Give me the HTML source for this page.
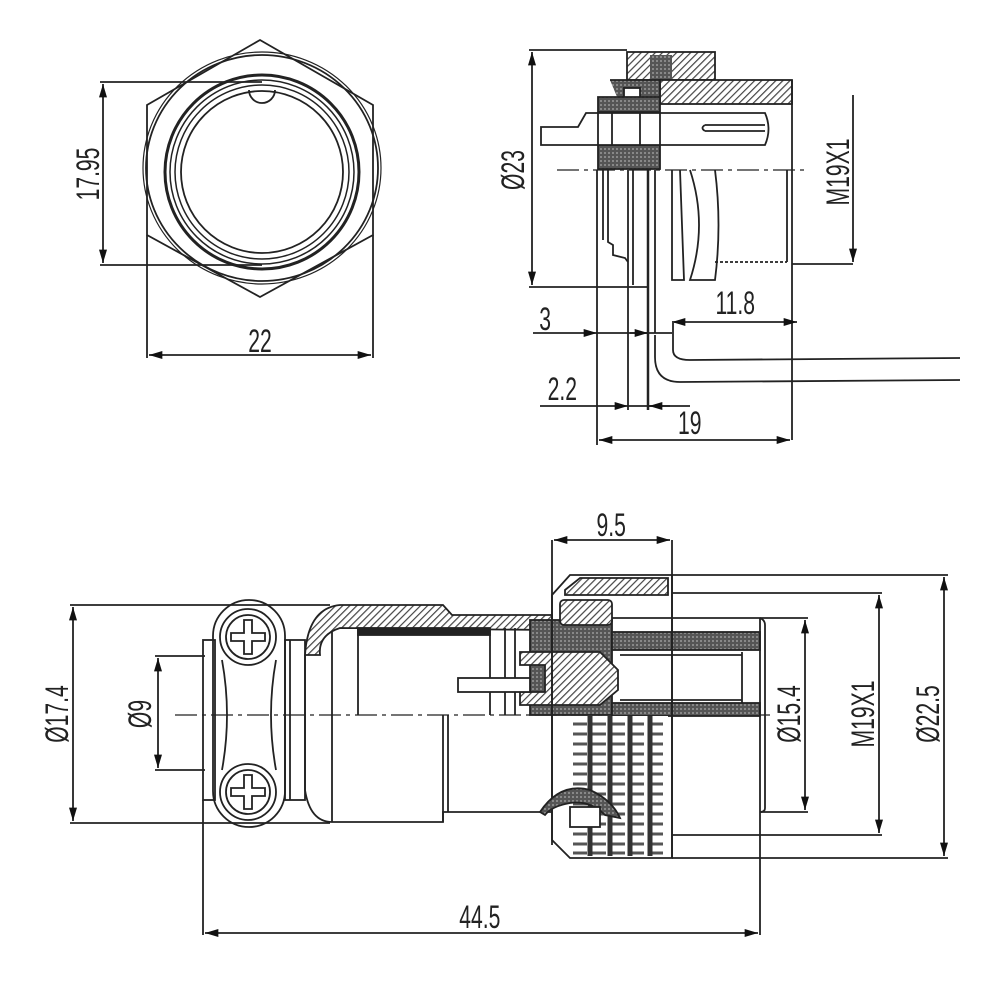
<!DOCTYPE html>
<html><head><meta charset="utf-8"><style>
html,body{margin:0;padding:0;background:#fff}
svg{display:block}
text{font-family:"Liberation Sans",sans-serif;font-size:32px;fill:#222}
</style></head><body>
<svg width="1002" height="1002" viewBox="0 0 1002 1002" xmlns="http://www.w3.org/2000/svg">
<defs>
<pattern id="h" width="5" height="5" patternUnits="userSpaceOnUse" patternTransform="rotate(45)">
<rect width="5" height="5" fill="#fff"/><line x1="0" y1="0" x2="0" y2="5" stroke="#444" stroke-width="2.4"/></pattern>
<pattern id="d" width="4" height="4" patternUnits="userSpaceOnUse">
<rect width="4" height="4" fill="#555"/><rect width="2" height="2" fill="#888"/></pattern>
<marker id="a" viewBox="0 0 10 6" refX="10" refY="3" markerWidth="22" markerHeight="8" markerUnits="userSpaceOnUse" orient="auto-start-reverse"><path d="M0,0L10,3L0,6z" fill="#111"/></marker>
</defs>
<g fill="none" stroke="#222" stroke-width="1.8">
<polygon points="260,40 373,105 373,235 260,297 147,235 147,105"/>
<ellipse cx="262" cy="168" rx="116" ry="113"/>
<ellipse cx="262" cy="168" rx="119" ry="116" stroke-width="1.2"/>
<circle cx="262" cy="172" r="97" stroke-width="3"/>
<circle cx="262" cy="172" r="92" stroke-width="1.5"/>
<circle cx="262" cy="172" r="87" stroke-width="1.5"/>
<circle cx="262" cy="172" r="81"/>
<path d="M249,90 A13,13 0 0 0 275,90"/>
<line x1="100" y1="82" x2="262" y2="82"/>
<line x1="100" y1="265" x2="262" y2="265"/>
<line x1="103" y1="84" x2="103" y2="263" marker-start="url(#a)" marker-end="url(#a)"/>
<line x1="147" y1="235" x2="147" y2="358"/>
<line x1="373" y1="235" x2="373" y2="358"/>
<line x1="149" y1="355" x2="371" y2="355" marker-start="url(#a)" marker-end="url(#a)"/>

<line x1="529" y1="50" x2="627" y2="50"/>
<line x1="529" y1="287" x2="649" y2="287"/>
<line x1="532" y1="52" x2="532" y2="285" marker-start="url(#a)" marker-end="url(#a)"/>
<rect x="627" y="52" width="88" height="28" fill="url(#h)"/>
<rect x="650" y="55" width="22" height="25" fill="url(#d)" stroke="none"/>
<rect x="660" y="80" width="132" height="24" fill="url(#h)"/>
<path d="M610,80 L660,80 L660,104 L620,104" fill="url(#d)"/>
<rect x="624" y="88" width="16" height="18" fill="#fff"/>
<path d="M598,97 L660,97 L660,112 L598,112Z" fill="url(#d)"/>
<rect x="598" y="145" width="62" height="24" fill="url(#d)"/>
<path d="M541,127 L578,127 L586,113 L765,113 Q772,129 765,145 L541,145Z" fill="#fff"/>
<line x1="598" y1="113" x2="598" y2="145"/><line x1="612" y1="113" x2="612" y2="145"/>
<line x1="640" y1="113" x2="640" y2="145"/><line x1="660" y1="113" x2="660" y2="145"/>
<path d="M705,125 L765,125 M705,131 L765,131 M705,125 Q700,128 705,131"/>
<line x1="792" y1="80" x2="792" y2="440"/>
<line x1="787" y1="170" x2="787" y2="262"/>
<line x1="557" y1="170" x2="805" y2="170" stroke-dasharray="22,5,4,5" stroke-width="1.2"/>
<line x1="715" y1="262" x2="787" y2="262" stroke-dasharray="3,2"/>
<line x1="792" y1="264" x2="853" y2="264"/>
<line x1="853" y1="95" x2="853" y2="262" marker-end="url(#a)"/>
<line x1="597" y1="170" x2="597" y2="445"/>
<line x1="603" y1="170" x2="603" y2="240"/>
<path d="M608,170 L608,242 L613,245 L613,255 L625,258 L628,262"/>
<line x1="628" y1="170" x2="628" y2="410"/>
<line x1="633" y1="170" x2="633" y2="285"/>
<line x1="648" y1="170" x2="648" y2="410" stroke-width="2.5"/>
<line x1="655" y1="170" x2="655" y2="333"/>
<path d="M672,170 L672,280 L684,280 L680,170"/>
<path d="M690,170 Q708,225 690,280 L715,280 Q722,225 715,170"/>
<path d="M655,335 L655,357 Q655,382 680,382 L960,380"/>
<path d="M673,323 L673,350 Q673,360 690,360 L960,358"/>
<line x1="797" y1="322" x2="672" y2="322" marker-end="url(#a)" marker-start="url(#a)"/>
<line x1="533" y1="333" x2="597" y2="333" marker-end="url(#a)"/>
<line x1="597" y1="333" x2="672" y2="333"/>
<line x1="630" y1="333" x2="648" y2="333" marker-end="url(#a)"/>
<line x1="540" y1="406" x2="628" y2="406" marker-end="url(#a)"/>
<line x1="628" y1="406" x2="690" y2="406"/>
<line x1="670" y1="406" x2="649" y2="406" marker-end="url(#a)"/>
<line x1="599" y1="440" x2="790" y2="440" marker-start="url(#a)" marker-end="url(#a)"/>

<line x1="70" y1="605" x2="330" y2="605"/>
<line x1="70" y1="823" x2="330" y2="823"/>
<line x1="73" y1="607" x2="73" y2="821" marker-start="url(#a)" marker-end="url(#a)"/>
<line x1="155" y1="656" x2="205" y2="656"/>
<line x1="155" y1="770" x2="205" y2="770"/>
<line x1="158" y1="658" x2="158" y2="768" marker-start="url(#a)" marker-end="url(#a)"/>
<line x1="175" y1="715" x2="770" y2="715" stroke-dasharray="22,5,4,5" stroke-width="1.2"/>
<rect x="203" y="640" width="12" height="160"/>
<line x1="203" y1="800" x2="203" y2="935"/>
<rect x="213" y="600" width="72" height="227" rx="36"/>
<path d="M222,660 Q232,715 222,770 M276,660 Q266,715 276,770"/>
<circle cx="248" cy="637" r="28"/><circle cx="248" cy="637" r="22"/>
<path d="M244,620 h8 v13 h13 v8 h-13 v13 h-8 v-13 h-13 v-8 h13z"/>
<circle cx="248" cy="792" r="28"/><circle cx="248" cy="792" r="22"/>
<path d="M244,775 h8 v13 h13 v8 h-13 v13 h-8 v-13 h-13 v-8 h13z"/>
<rect x="285" y="640" width="20" height="160"/>
<line x1="290" y1="640" x2="290" y2="800"/>
<path d="M305,655 Q308,608 340,605 L443,605 L452,615 L552,615 L552,630 L340,628 Q318,635 320,655Z" fill="url(#h)"/>
<rect x="358" y="628" width="132" height="7" fill="#222"/>
<line x1="332" y1="632" x2="332" y2="822"/>
<line x1="358" y1="628" x2="358" y2="715"/>
<line x1="490" y1="628" x2="490" y2="715"/>
<path d="M305,655 L305,790 Q310,822 332,822 L443,822 L443,812 L552,812"/>
<line x1="443" y1="715" x2="443" y2="822"/><line x1="448" y1="715" x2="448" y2="812"/>
<line x1="505" y1="628" x2="505" y2="715"/><line x1="515" y1="628" x2="515" y2="715"/>
<rect x="530" y="620" width="82" height="95" fill="url(#d)"/>
<path d="M520,652 L600,652 L618,670 L618,690 L600,705 L520,705 L520,692 L545,692 L545,665 L520,665Z" fill="url(#h)"/>
<rect x="458" y="678" width="72" height="14" fill="#fff"/>
<rect x="560" y="600" width="52" height="25" fill="url(#h)" rx="4"/>
<rect x="612" y="632" width="148" height="18" fill="url(#d)"/>
<rect x="612" y="703" width="148" height="13" fill="url(#d)"/>
<line x1="612" y1="618" x2="760" y2="618"/>
<path d="M760,618 Q765,620 765,625 L765,808 Q765,812 760,812"/>
<line x1="760" y1="618" x2="760" y2="935"/>
<line x1="742" y1="652" x2="742" y2="703"/>
<line x1="620" y1="655" x2="742" y2="655"/><line x1="620" y1="700" x2="742" y2="700"/>
<path d="M552,595 L570,575 L672,575 L672,858 L570,858 L552,840Z"/>
<path d="M565,590 L580,578 L668,578 L668,595 L565,595Z" fill="url(#h)"/>
<line x1="552" y1="540" x2="552" y2="845"/>
<line x1="672" y1="540" x2="672" y2="858"/>
<rect x="573" y="716" width="95" height="140" fill="#fff" stroke="none"/>
<g stroke="#555" stroke-width="3" stroke-dasharray="14,5">
<line x1="573" y1="724" x2="668" y2="724"/><line x1="573" y1="734" x2="668" y2="734"/>
<line x1="573" y1="744" x2="668" y2="744"/><line x1="573" y1="754" x2="668" y2="754"/>
<line x1="573" y1="764" x2="668" y2="764"/><line x1="573" y1="774" x2="668" y2="774"/>
<line x1="573" y1="784" x2="668" y2="784"/><line x1="573" y1="794" x2="668" y2="794"/>
<line x1="573" y1="804" x2="668" y2="804"/><line x1="573" y1="814" x2="668" y2="814"/>
<line x1="573" y1="824" x2="668" y2="824"/><line x1="573" y1="834" x2="668" y2="834"/>
<line x1="573" y1="844" x2="668" y2="844"/><line x1="573" y1="853" x2="668" y2="853"/>
</g>
<g stroke="#333" stroke-width="5">
<line x1="590" y1="716" x2="590" y2="856"/><line x1="610" y1="716" x2="610" y2="856"/>
<line x1="630" y1="716" x2="630" y2="856"/><line x1="650" y1="716" x2="650" y2="856"/>
</g>
<path d="M540,812 Q560,782 590,790 Q612,800 620,818 L605,815 Q590,800 570,803 Q552,806 545,815Z" fill="url(#d)"/>
<rect x="570" y="807" width="30" height="20" fill="#fff"/>
<line x1="672" y1="575" x2="948" y2="575"/>
<line x1="672" y1="593" x2="882" y2="593"/>
<line x1="760" y1="618" x2="808" y2="618"/>
<line x1="760" y1="812" x2="808" y2="812"/>
<line x1="672" y1="835" x2="882" y2="835"/>
<line x1="672" y1="858" x2="948" y2="858"/>
<line x1="805" y1="620" x2="805" y2="810" marker-start="url(#a)" marker-end="url(#a)"/>
<line x1="879" y1="595" x2="879" y2="833" marker-start="url(#a)" marker-end="url(#a)"/>
<line x1="944" y1="577" x2="944" y2="856" marker-start="url(#a)" marker-end="url(#a)"/>
<line x1="554" y1="540" x2="670" y2="540" marker-start="url(#a)" marker-end="url(#a)"/>
<line x1="205" y1="933" x2="758" y2="933" marker-start="url(#a)" marker-end="url(#a)"/>
</g>
<g transform="scale(0.66,1)">
<text x="394" y="352" text-anchor="middle">22</text>
<text x="826" y="330" text-anchor="middle">3</text>
<text x="852" y="400" text-anchor="middle">2.2</text>
<text x="1114" y="314" text-anchor="middle">11.8</text>
<text x="1045" y="434" text-anchor="middle">19</text>
<text x="926" y="536" text-anchor="middle">9.5</text>
<text x="727" y="928" text-anchor="middle">44.5</text>
</g>
<text transform="translate(99,174) rotate(-90) scale(0.66,1)" text-anchor="middle">17.95</text>
<text transform="translate(524,170) rotate(-90) scale(0.66,1)" text-anchor="middle">Ø23</text>
<text transform="translate(849,172) rotate(-90) scale(0.66,1)" text-anchor="middle">M19X1</text>
<text transform="translate(68,714) rotate(-90) scale(0.66,1)" text-anchor="middle">Ø17.4</text>
<text transform="translate(151,714) rotate(-90) scale(0.66,1)" text-anchor="middle">Ø9</text>
<text transform="translate(800,714) rotate(-90) scale(0.66,1)" text-anchor="middle">Ø15.4</text>
<text transform="translate(874,714) rotate(-90) scale(0.66,1)" text-anchor="middle">M19X1</text>
<text transform="translate(939,714) rotate(-90) scale(0.66,1)" text-anchor="middle">Ø22.5</text>
</svg>
</body></html>
